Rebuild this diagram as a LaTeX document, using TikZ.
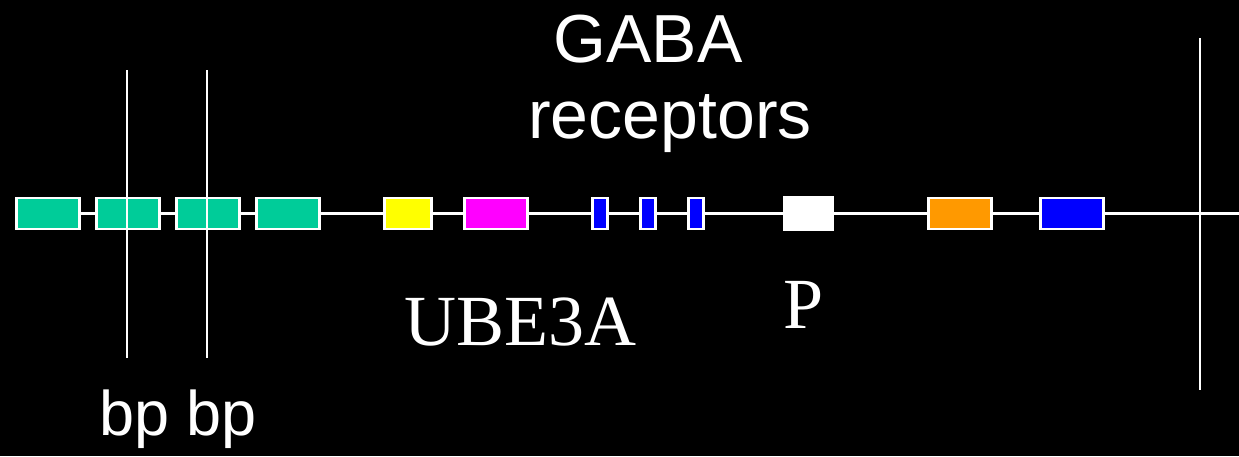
\documentclass[tikz,border=0pt]{standalone}
\usepackage{fontspec}
\setmainfont{Liberation Serif}
\newfontfamily\handfont{Liberation Sans}
\definecolor{exgreen}{HTML}{00CC99}
\definecolor{exorange}{HTML}{FF9900}
\definecolor{exmagenta}{HTML}{FF00FF}
\definecolor{exblue}{HTML}{0000FF}
\definecolor{exyellow}{HTML}{FFFF00}
\begin{document}
\begin{tikzpicture}[x=1pt,y=-1pt,
  exon/.style={draw=white,line width=2.5pt,inner sep=0pt,minimum height=31pt,anchor=west},
  wire/.style={white,line width=2.5pt},
  cut/.style={white,line width=1.6pt},
  hand/.style={text=white,font=\handfont\fontsize{68}{70}\selectfont,inner sep=0pt,anchor=base},
  roman/.style={text=white,font=\fontsize{72}{74}\selectfont,inner sep=0pt,anchor=base west}]
\fill[black] (0,0) rectangle (1239,456);
\useasboundingbox (0,0) rectangle (1239,456);
% exons
\node[exon,fill=exgreen,minimum width=63pt] (g1) at (15,213.5) {};
\node[exon,fill=exgreen,minimum width=63pt] (g2) at (95,213.5) {};
\node[exon,fill=exgreen,minimum width=63pt] (g3) at (175,213.5) {};
\node[exon,fill=exgreen,minimum width=63pt] (g4) at (255,213.5) {};
\node[exon,fill=exyellow,minimum width=47pt] (y1) at (383,213.5) {};
\node[exon,fill=exmagenta,minimum width=63pt] (m1) at (463,213.5) {};
\node[exon,fill=exblue,minimum width=15pt] (s1) at (591,213.5) {};
\node[exon,fill=exblue,minimum width=15pt] (s2) at (639,213.5) {};
\node[exon,fill=exblue,minimum width=15pt] (s3) at (687,213.5) {};
\node[exon,fill=white,minimum width=48pt,minimum height=32pt] (w1) at (783,213.5) {};
\node[exon,fill=exorange,minimum width=63pt] (o1) at (927,213.5) {};
\node[exon,fill=exblue,minimum width=63pt] (b1) at (1039,213.5) {};
\coordinate (rend) at (1239,213.5);
% backbone
\draw[wire] (g1) -- (g2);
\draw[wire] (g2) -- (g3);
\draw[wire] (g3) -- (g4);
\draw[wire] (g4) -- (y1);
\draw[wire] (y1) -- (m1);
\draw[wire] (m1) -- (s1);
\draw[wire] (s1) -- (s2);
\draw[wire] (s2) -- (s3);
\draw[wire] (s3) -- (w1);
\draw[wire] (w1) -- (o1);
\draw[wire] (o1) -- (b1);
\draw[wire] (b1) -- (rend);
% breakpoints
\coordinate (v1t) at (127,70);
\coordinate (v1b) at (127,358);
\coordinate (v2t) at (207,70);
\coordinate (v2b) at (207,358);
\coordinate (v3t) at (1200,38);
\coordinate (v3b) at (1200,390);
\draw[cut] (v1t) -- (v1b);
\draw[cut] (v2t) -- (v2b);
\draw[wire] (v3t) -- (v3b);
% labels
\node[hand] (gaba) at (648,62) {GABA};
\node[hand] (rec) at (670,138) {receptors};
\node[hand,font=\handfont\fontsize{63}{65}\selectfont] (bp) at (178,435) {bp bp};
\node[roman] (ube) at (404,345) {UBE3A};
\node[roman] (p) at (783,328) {P};
\end{tikzpicture}
\end{document}
